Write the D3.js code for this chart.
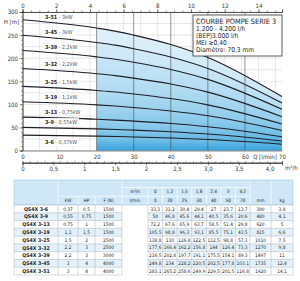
<!DOCTYPE html>
<html>
<head>
<meta charset="utf-8">
<script src="https://cdn.jsdelivr.net/npm/d3@7"></script>
<style>
  body { margin: 0; background: #fff; }
  svg { display: block; font-family: "Liberation Sans Narrow", "DejaVu Sans Condensed", "Liberation Sans", sans-serif; }
</style>
</head>
<body>
<svg id="chart" width="300" height="281"></svg>
<script>
// ─── data ───
const flowLmin = [0, 20, 25, 30, 40, 50, 70];
const flowM3h = ['0', '1,2', '1,5', '1,8', '2,4', '3', '4,2'];
const models = ['3-6', '3-9', '3-13', '3-19', '3-25', '3-32', '3-39', '3-45', '3-51'];
const powerKw = ['0,37', '0,55', '0,75', '1,1', '1,5', '2,2', '2,2', '3', '3'];
const powerHp = ['0,5', '0,75', '1', '1,5', '2', '3', '3', '4', '4'];
const forceN = ['1500', '1500', '1500', '1500', '2500', '2500', '3000', '4000', '4000'];
const lengthMm = ['390', '480', '620', '815', '1010', '1270', '1497', '1735', '1920'];
const weightKg = ['3,8', '4,1', '5', '6,6', '7,5', '9,8', '11', '12,4', '14,1'];
const head = [
  [33.3, 31.2, 30.4, 29.4, 27, 23.7, 13.7],
  [50, 46.8, 45.6, 44.1, 40.5, 35.6, 20.6],
  [72.2, 67.6, 65.9, 63.7, 58.5, 51.4, 29.8],
  [105.5, 98.8, 96.3, 93.1, 85.5, 75.1, 43.5],
  [138.8, 130, 126.8, 122.5, 112.5, 98.8, 57.3],
  [177.6, 166.4, 162.2, 156.8, 144, 126.4, 73.3],
  [216.5, 202.8, 197.7, 191.1, 175.5, 154.1, 89.3],
  [249.8, 234, 228.2, 220.5, 202.5, 177.8, 103.1],
  [283.1, 265.2, 258.6, 249.9, 229.5, 201.5, 116.8]
];
const yTicks = [0, 50, 100, 150, 200, 250, 300];
const lminTicks = [0, 10, 20, 30, 40, 50, 60, 70];
const gpmTicks = [0, 2, 4, 6, 8, 10, 12, 14];
const m3hTicks = [0, 0.5, 1, 1.5, 2, 2.5, 3, 3.5, 4];
const m3hLabels = ['0', '0,5', '1', '1,5', '2', '2,5', '3,0', '3,5', '4,0'];
const legendLines = ['COURBE POMPE SERIE 3', '1.200 - 4.200 l/h', '(BEP)3.000 l/h', 'MEI \u22650,40', 'Diamètre: 70,3 mm'];

(function () {
  const comma = v => String(v).replace('.', ',');

  const svg = d3.select('#chart');
  const x = d3.scaleLinear().domain([0, 70]).range([22.5, 282]);
  const y = d3.scaleLinear().domain([0, 300]).range([150.5, 12]);
  const xg = d3.scaleLinear().domain([0, 70 / 4.546]).range([22.5, 282]);
  const xm = d3.scaleLinear().domain([0, 4.2]).range([22.5, 282]);

  // light grid
  const grid = svg.append('g').attr('stroke', '#cfcfcf').attr('stroke-width', 0.5);
  grid.selectAll('.h').data(d3.range(0, 301, 25)).join('line').attr('class', 'h')
    .attr('x1', x(0)).attr('x2', x(70)).attr('y1', d => y(d)).attr('y2', d => y(d));
  grid.selectAll('.v').data(d3.range(1, 16)).join('line').attr('class', 'v')
    .attr('x1', d => xg(d)).attr('x2', d => xg(d)).attr('y1', y(300)).attr('y2', y(0));

  // blue bands over the working range (20 - 70 l/min)
  const defs = svg.append('defs');
  const bandColor = d3.interpolateRgb('#36a3dd', '#c9e6f7');
  const idx = d3.range(1, flowLmin.length);
  models.forEach((m, i) => {
    const base = bandColor(i / (models.length - 1));
    const g = defs.append('linearGradient').attr('id', 'band' + i)
      .attr('x1', 0).attr('y1', 0).attr('x2', 0).attr('y2', 1);
    g.append('stop').attr('offset', 0).attr('stop-color', d3.interpolateRgb(base, '#fff')(0.4));
    g.append('stop').attr('offset', 1).attr('stop-color', base);
    const area = d3.area()
      .x(j => x(flowLmin[j]))
      .y0(j => y(i === 0 ? 0 : head[i - 1][j]))
      .y1(j => y(head[i][j]))
      .curve(d3.curveMonotoneX);
    svg.append('path').attr('d', area(idx)).attr('fill', `url(#band${i})`);
  });

  // darker verticals
  svg.append('g').selectAll('line').data([20, 30, 40, 50, 60]).join('line')
    .attr('x1', d => x(d)).attr('x2', d => x(d)).attr('y1', y(300)).attr('y2', y(0))
    .attr('stroke', '#4a4a4a').attr('stroke-width', 0.6);

  // pump curves
  const line = d3.line().x((d, j) => x(flowLmin[j])).y(d => y(d)).curve(d3.curveMonotoneX);
  svg.append('g').selectAll('path').data(head).join('path')
    .attr('d', line).attr('fill', 'none').attr('stroke', '#1d1d24').attr('stroke-width', 1.1);

  // curve labels
  const labels = svg.append('g').attr('font-size', 5.4).attr('fill', '#222');
  models.forEach((m, i) => {
    const mid = y((head[i][0] + head[i][1]) / 2);
    const ly = i === 0 ? mid + 6.5 : mid - 6.5;
    const bg = labels.append('rect').attr('fill', '#fff');
    const t = labels.append('text').attr('x', 45).attr('y', ly).attr('dy', '0.35em');
    t.append('tspan').attr('font-weight', 'bold').text(m);
    t.append('tspan').attr('fill', '#555').text(' - ' + powerKw[i] + 'kW');
    const w = t.node().getComputedTextLength();
    bg.attr('x', 43).attr('y', ly - 3.5).attr('width', w + 4).attr('height', 7);
  });

  // axes
  const styleAxis = g => {
    g.selectAll('.domain').attr('stroke', '#333').attr('stroke-width', 0.6);
    g.selectAll('.tick line').attr('stroke', '#333').attr('stroke-width', 0.5);
    g.selectAll('.tick text').attr('fill', '#333').attr('font-size', 6);
    g.attr('font-family', null);
  };
  svg.append('g').attr('transform', `translate(${x(0)},0)`)
    .call(d3.axisLeft(y).tickValues(d3.range(0, 301, 10)).tickSize(1.5).tickFormat(''))
    .call(styleAxis);
  svg.append('g').attr('transform', `translate(${x(0)},0)`)
    .call(d3.axisLeft(y).tickValues(yTicks).tickSize(3).tickPadding(1.5))
    .call(styleAxis);
  svg.append('text').attr('x', 19).attr('y', 24).attr('text-anchor', 'end')
    .attr('font-size', 6).attr('fill', '#333').text('H [m]');

  svg.append('g').attr('transform', `translate(0,${y(300)})`)
    .call(d3.axisTop(xg).tickValues(d3.range(0, 15.4, 0.5)).tickSize(1.5).tickFormat(''))
    .call(styleAxis);
  svg.append('g').attr('transform', `translate(0,${y(300)})`)
    .call(d3.axisTop(xg).tickValues(gpmTicks).tickSize(3).tickPadding(1))
    .call(styleAxis);

  svg.append('g').attr('transform', `translate(0,${y(0)})`)
    .call(d3.axisBottom(x).tickValues(lminTicks).tickSize(0).tickPadding(4))
    .call(styleAxis);
  svg.append('text').attr('x', 265).attr('y', 158.5).attr('text-anchor', 'middle')
    .attr('font-size', 6).attr('fill', '#333').text('Q [l/min]');

  const axisY2 = 162.7;
  svg.append('g').attr('transform', `translate(0,${axisY2})`)
    .call(d3.axisTop(x).tickValues(d3.range(0, 71, 2)).tickSize(1.5).tickFormat(''))
    .call(styleAxis);
  svg.append('g').attr('transform', `translate(0,${axisY2})`)
    .call(d3.axisBottom(xm).tickValues(d3.range(0, 4.21, 0.1)).tickSize(1.5).tickFormat(''))
    .call(styleAxis);
  svg.append('g').attr('transform', `translate(0,${axisY2})`)
    .call(d3.axisBottom(xm).tickValues(m3hTicks).tickSize(3).tickPadding(1)
      .tickFormat((d, i) => m3hLabels[i]))
    .call(styleAxis);
  svg.append('text').attr('x', 285).attr('y', 170).attr('font-size', 6).attr('fill', '#333').text('m³/h');

  // legend box
  svg.append('rect').attr('x', 193).attr('y', 15).attr('width', 89).attr('height', 41)
    .attr('fill', '#fff').attr('stroke', '#333').attr('stroke-width', 0.8);
  svg.append('g').selectAll('text').data(legendLines).join('text')
    .attr('x', 196).attr('y', (d, i) => i === 0 ? 21.5 : 22 + i * 7)
    .attr('dy', '0.35em')
    .attr('font-size', (d, i) => i === 0 ? 7.3 : 6.6)
    .attr('fill', '#222').text(d => d);

  // ─── table ───
  const tbl = svg.append('g').attr('font-size', 5).attr('fill', '#222');
  const qW = (250 - 148) / flowLmin.length;
  const qX = flowLmin.map((d, j) => 148 + j * qW);
  const tTop = 180, sub1 = 187.5, sub2 = 196.25, hdrBottom = 205;
  const rowH = (275 - hdrBottom) / models.length;
  const headFill = '#cfe7f6';

  tbl.append('rect').attr('x', 14).attr('y', tTop).attr('width', 279).attr('height', hdrBottom - tTop).attr('fill', headFill);
  const hdrLines = [
    [58, tTop, 58, hdrBottom], [122, tTop, 122, hdrBottom], [250, tTop, 250, hdrBottom], [271, tTop, 271, hdrBottom],
    [78, sub2, 78, hdrBottom], [95, sub2, 95, hdrBottom], [58, sub2, 122, sub2],
    [122, sub1, 250, sub1], [122, sub2, 250, sub2]
  ].concat(qX.map(v => [v, sub1, v, hdrBottom]));
  tbl.append('g').selectAll('line').data(hdrLines).join('line')
    .attr('x1', d => d[0]).attr('y1', d => d[1]).attr('x2', d => d[2]).attr('y2', d => d[3])
    .attr('stroke', '#fff').attr('stroke-width', 0.7);
  tbl.append('rect').attr('x', 14).attr('y', tTop).attr('width', 279).attr('height', hdrBottom - tTop)
    .attr('fill', 'none').attr('stroke', '#9fc9e6').attr('stroke-width', 0.6);

  const hText = (tx, ty, s) => tbl.append('text').attr('x', tx).attr('y', ty).attr('dy', '0.35em')
    .attr('text-anchor', 'middle').attr('font-size', 4.6).text(s);
  hText(68, (sub2 + hdrBottom) / 2, 'kW');
  hText(86.5, (sub2 + hdrBottom) / 2, 'HP');
  hText(108.5, (sub2 + hdrBottom) / 2, 'F (N)');
  hText(135, (sub1 + sub2) / 2, 'm³/h');
  hText(135, (sub2 + hdrBottom) / 2, 'l/min');
  flowM3h.forEach((s, j) => hText(qX[j] + qW / 2, (sub1 + sub2) / 2, s));
  flowLmin.forEach((s, j) => hText(qX[j] + qW / 2, (sub2 + hdrBottom) / 2, s));
  hText(260.5, (sub2 + hdrBottom) / 2, 'mm');
  hText(282, (sub2 + hdrBottom) / 2, 'kg');

  models.forEach((m, i) => {
    const ry = hdrBottom + i * rowH;
    const cy = ry + rowH / 2;
    const fill = i % 2 ? '#e4f1fa' : '#fff';
    tbl.append('rect').attr('x', 14).attr('y', ry).attr('width', 108).attr('height', rowH).attr('fill', fill);
    tbl.append('rect').attr('x', 148).attr('y', ry).attr('width', 145).attr('height', rowH).attr('fill', fill);
    const cells = [
      [36, 'QS4X ' + m, true], [68, powerKw[i]], [86.5, powerHp[i]], [108.5, forceN[i]]
    ].concat(head[i].map((h, j) => [qX[j] + qW / 2, comma(h)]))
     .concat([[260.5, lengthMm[i]], [282, weightKg[i]]]);
    cells.forEach(c => {
      tbl.append('text').attr('x', c[0]).attr('y', cy).attr('dy', '0.35em')
        .attr('text-anchor', 'middle').attr('font-weight', c[2] ? 'bold' : null)
        .attr('font-size', c[2] ? 5.2 : 4.8).text(c[1]);
    });
  });
  const body = tbl.append('g').attr('stroke', '#a9b4bd').attr('stroke-width', 0.5);
  d3.range(models.length + 1).forEach(i => {
    const ly = hdrBottom + i * rowH;
    body.append('line').attr('x1', 14).attr('x2', 122).attr('y1', ly).attr('y2', ly);
    body.append('line').attr('x1', 148).attr('x2', 293).attr('y1', ly).attr('y2', ly);
  });
  [14, 58, 78, 95, 122].concat(qX, [250, 271, 293]).forEach(v => {
    body.append('line').attr('x1', v).attr('x2', v).attr('y1', hdrBottom).attr('y2', 275);
  });
})();
</script>
</body>
</html>
